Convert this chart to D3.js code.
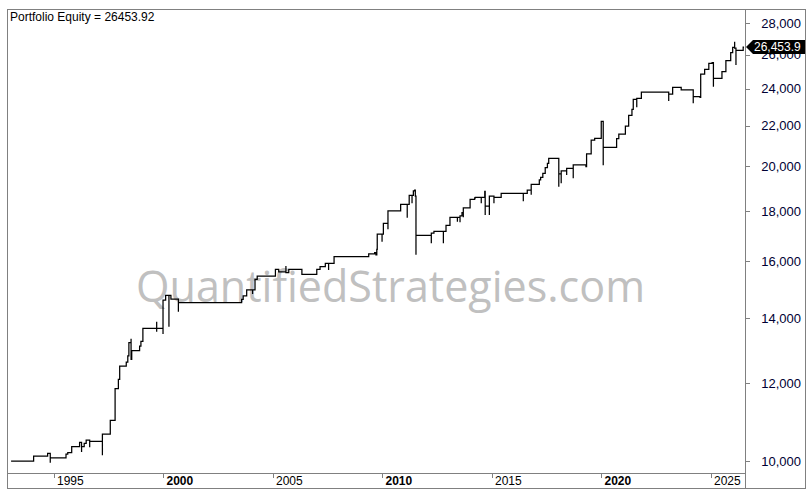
<!DOCTYPE html>
<meta charset="utf-8">
<script src="https://d3js.org/d3.v7.min.js"></script>
<style>
  body { margin: 0; background: #fff; }
  text { font-family: "Liberation Sans", Arial, sans-serif; }
</style>
<div id="chart"></div>
<script>
// equity curve (decimal year, equity); repeated years are intraday dips/spikes
var years = [
  1993.04, 1994.07, 1994.71, 1994.83, 1994.83, 1995.55, 1995.63, 1995.81, 1996.17, 1996.26,
  1996.26, 1996.38, 1996.47, 1996.63, 1996.63, 1997.21, 1997.21, 1997.57, 1997.79, 1997.94,
  1998.00, 1998.30, 1998.37, 1998.42, 1998.52, 1998.52, 1998.55, 1998.91, 1998.97, 1999.06,
  1999.69, 1999.69, 1999.69, 1999.98, 1999.98, 2000.10, 2000.25, 2000.25, 2000.34, 2000.68,
  2000.68, 2003.57, 2003.64, 2003.80, 2004.07, 2004.07, 2004.18, 2004.28, 2005.11, 2005.26,
  2005.59, 2005.59, 2005.72, 2006.32, 2007.00, 2007.15, 2007.39, 2007.54, 2007.54, 2007.79,
  2009.37, 2009.64, 2009.70, 2009.74, 2009.76, 2009.98, 2009.98, 2010.04, 2010.25, 2010.25,
  2010.83, 2011.13, 2011.13, 2011.22, 2011.35, 2011.35, 2011.41, 2011.47, 2011.50, 2011.53,
  2011.53, 2012.23, 2012.23, 2012.35, 2012.78, 2012.78, 2012.90, 2013.08, 2013.42, 2013.42,
  2013.54, 2013.54, 2013.63, 2013.69, 2013.69, 2014.00, 2014.21, 2014.24, 2014.51, 2014.51,
  2014.67, 2014.69, 2014.69, 2014.88, 2014.88, 2015.09, 2015.09, 2015.42, 2016.43, 2016.43,
  2016.61, 2016.79, 2016.79, 2017.16, 2017.22, 2017.32, 2017.43, 2017.53, 2017.59, 2018.05,
  2018.05, 2018.16, 2018.16, 2018.41, 2018.41, 2018.71, 2018.71, 2019.29, 2019.32, 2019.53,
  2019.69, 2019.99, 2020.08, 2020.08, 2020.69, 2020.79, 2021.09, 2021.24, 2021.39, 2021.45,
  2021.61, 2021.61, 2021.82, 2023.07, 2023.07, 2023.25, 2023.64, 2023.64, 2024.19, 2024.19,
  2024.50, 2024.53, 2024.71, 2024.90, 2025.05, 2025.11, 2025.11, 2025.50, 2025.68, 2025.90,
  2025.99, 2026.08, 2026.08, 2026.14, 2026.14, 2026.47, 2026.51
];
var equity = [
  10000, 10118, 10183, 9960, 10071, 10166, 10197, 10342, 10449, 10214,
  10342, 10425, 10506, 10327, 10474, 10135, 10655, 11004, 11853, 12117,
  12502, 12620, 12800, 13206, 13331, 12701, 12960, 13104, 13250, 13661,
  13875, 13552, 13661, 13479, 14600, 14763, 13712, 14763, 14634, 14204,
  14508, 14625, 14739, 14948, 14808, 14948, 15329, 15448, 15693, 15594,
  15815, 15568, 15693, 15510, 15693, 15789, 15916, 15667, 15916, 16165,
  16268, 16318, 16230, 16449, 17051, 16745, 17051, 17486, 17241, 17999,
  18284, 17718, 18284, 18675, 18327, 18675, 18865, 18909, 18644, 16241,
  16999, 16682, 17091, 17159, 16682, 17159, 17404, 17734, 17552, 17734,
  17527, 17789, 17927, 17734, 18126, 18500, 18557, 18587, 18327, 18587,
  18852, 17831, 18211, 17831, 18644, 18327, 18587, 18763, 18413, 18763,
  18909, 18702, 19164, 19359, 19482, 19666, 19927, 20134, 20372, 19057,
  19634, 19209, 19773, 19588, 19899, 19437, 20054, 19973, 20579, 21267,
  21353, 22225, 20039, 20906, 21332, 21568, 21977, 22537, 22857, 23401,
  22965, 23456, 23806, 23308, 23695, 24072, 24106, 23920, 23184, 23545,
  23512, 24836, 25112, 25468, 25504, 24106, 24586, 24971, 25625, 26111,
  26445, 26795, 26402, 25368, 26250, 26453.92, 26453.92
];
var lastEquity = 26453.92;

var yTicks = [10000, 12000, 14000, 16000, 18000, 20000, 22000, 24000, 26000, 28000];
var yearTicks = [1995, 2000, 2005, 2010, 2015, 2020, 2025];
var boldYears = [2000, 2010, 2020];

var W = 811, H = 501;
var plot = {left: 7, top: 9, right: 745, bottom: 473};
var axisBottom = 488, outerRight = 805;

function toDate(y) {
  var yr = Math.floor(y);
  var start = new Date(yr, 0, 1), end = new Date(yr + 1, 0, 1);
  return new Date(+start + (y - yr) * (end - start));
}

var data = years.map(function(d, i) { return {date: toDate(d), value: equity[i]}; });

var svg = d3.select("#chart").append("svg")
    .attr("width", W)
    .attr("height", H);

var x = d3.scaleTime()
    .domain([toDate(1992.854), toDate(2026.553)])
    .range([plot.left, plot.right]);

var y = d3.scaleLog()
    .domain([9722, 28937])
    .range([plot.bottom, plot.top]);

// watermark behind the curve
svg.append("text")
    .attr("x", 136)
    .attr("y", 302)
    .attr("textLength", 509)
    .attr("lengthAdjust", "spacingAndGlyphs")
    .style("font-family", "'Open Sans', 'Noto Sans', sans-serif")
    .style("font-size", "44px")
    .attr("fill", "#c0c0c0")
    .text("QuantifiedStrategies.com");

// equity line
svg.append("path")
    .datum(data)
    .attr("fill", "none")
    .attr("stroke", "#000")
    .attr("stroke-width", 1.25)
    .attr("d", d3.line()
      .x(function(d) { return x(d.date); })
      .y(function(d) { return y(d.value); })
      .curve(d3.curveStepAfter));

// frames
var frame = svg.append("g")
    .attr("fill", "none")
    .attr("stroke", "#808080")
    .attr("shape-rendering", "crispEdges");
frame.append("rect")
    .attr("x", plot.left + 0.5).attr("y", plot.top + 0.5)
    .attr("width", outerRight - plot.left).attr("height", axisBottom - plot.top);
frame.append("line")
    .attr("x1", plot.right + 0.5).attr("x2", plot.right + 0.5)
    .attr("y1", plot.top).attr("y2", axisBottom);
frame.append("line")
    .attr("x1", plot.left).attr("x2", plot.right)
    .attr("y1", plot.bottom + 0.5).attr("y2", plot.bottom + 0.5);

// right value axis
var yAxis = svg.append("g");
yAxis.selectAll("line")
    .data(yTicks)
    .enter().append("line")
      .attr("x1", plot.right + 1).attr("x2", plot.right + 5)
      .attr("y1", function(d) { return Math.round(y(d)) + 0.5; })
      .attr("y2", function(d) { return Math.round(y(d)) + 0.5; })
      .attr("stroke", "#808080")
      .attr("shape-rendering", "crispEdges");
yAxis.selectAll("text")
    .data(yTicks)
    .enter().append("text")
      .attr("x", 801)
      .attr("y", function(d) { return y(d); })
      .attr("dy", "0.36em")
      .attr("text-anchor", "end")
      .attr("fill", "#000033")
      .style("font-size", "13px")
      .text(d3.format(","));

// bottom date axis
var xAxis = svg.append("g");
xAxis.selectAll("line")
    .data(yearTicks)
    .enter().append("line")
      .attr("x1", function(d) { return Math.round(x(toDate(d))) + 0.5; })
      .attr("x2", function(d) { return Math.round(x(toDate(d))) + 0.5; })
      .attr("y1", plot.bottom + 1).attr("y2", plot.bottom + 5)
      .attr("stroke", "#808080")
      .attr("shape-rendering", "crispEdges");
xAxis.selectAll("text")
    .data(yearTicks)
    .enter().append("text")
      .attr("x", function(d) { return x(toDate(d)) + 3; })
      .attr("y", 485)
      .attr("fill", "#000")
      .style("font-size", "12px")
      .style("font-weight", function(d) { return boldYears.indexOf(d) >= 0 ? "bold" : "normal"; })
      .text(function(d) { return d; });

// last value marker
var ly = Math.round(y(lastEquity));
svg.append("path")
    .attr("d", "M" + (plot.right + 1) + "," + ly +
               "L" + (plot.right + 8) + "," + (ly - 7) +
               "L" + outerRight + "," + (ly - 7) +
               "L" + outerRight + "," + (ly + 7) +
               "L" + (plot.right + 8) + "," + (ly + 7) + "Z")
    .attr("fill", "#000");
svg.append("text")
    .attr("x", plot.right + 9)
    .attr("y", ly)
    .attr("dy", "0.36em")
    .attr("fill", "#fff")
    .style("font-size", "12px")
    .text(d3.format(",.1f")(lastEquity));

// title
svg.append("text")
    .attr("x", 10)
    .attr("y", 21)
    .attr("fill", "#000")
    .style("font-size", "12px")
    .text("Portfolio Equity = " + lastEquity);
</script>
